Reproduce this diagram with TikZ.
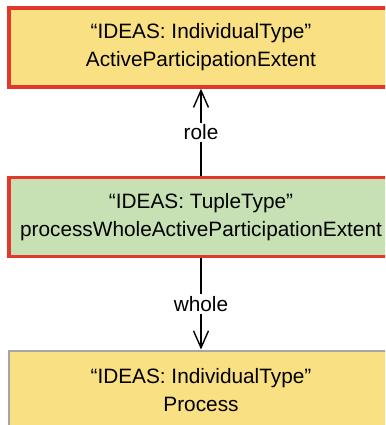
\documentclass[tikz,border=0pt]{standalone}
\usepackage{fontspec}
\setmainfont{Liberation Sans}
\usetikzlibrary{arrows.meta,positioning}

\definecolor{ideasyellow}{HTML}{F9E082}
\definecolor{ideasgreen}{HTML}{C7E1B5}
\definecolor{ideasred}{HTML}{E2382B}

\tikzset{
  typebox/.style={draw, align=center, minimum width=384pt, minimum height=79pt,
    inner sep=0pt, font=\fontsize{20.8}{28}\selectfont},
  indiv/.style={typebox, fill=ideasyellow},
  tuple/.style={typebox, fill=ideasgreen},
  hilite/.style={draw=ideasred, line width=3.5pt},
  plain/.style={draw=gray!70, line width=2pt},
  rel/.style={line width=1.4pt, -{Straight Barb[length=17pt,width=15pt,line width=1.4pt]}},
  rellabel/.style={fill=white, inner sep=2pt, font=\fontsize{20.8}{22}\selectfont}
}

\begin{document}
\begin{tikzpicture}[x=1pt,y=-1pt]

\useasboundingbox (0,0) rectangle (385,425);
\clip (0,0) rectangle (385,425);

\node[indiv,hilite] (apext) at (201,47.5) {``IDEAS: IndividualType''\\ActiveParticipationExtent};
\node[tuple,hilite] (pwape) at (201,217) {``IDEAS: TupleType''\\processWholeActiveParticipationExtent};
\node[indiv,plain] (process) at (201,390) {``IDEAS: IndividualType''\\Process};

\draw[rel] (pwape) -- node[rellabel] {role} (apext);
\draw[rel] (pwape) -- node[rellabel] {whole} (process);

\end{tikzpicture}
\end{document}
